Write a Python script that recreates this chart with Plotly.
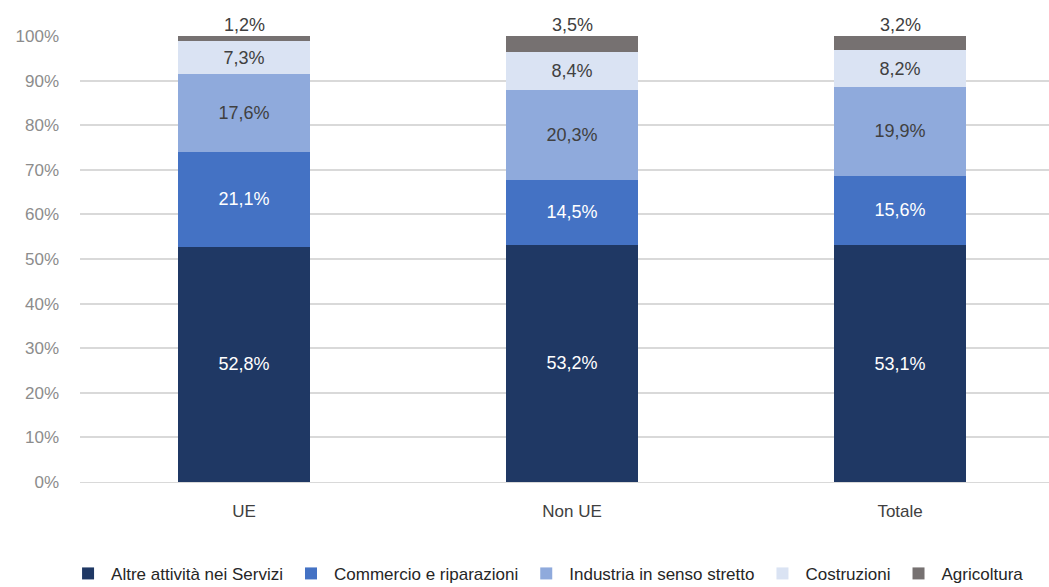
import plotly.graph_objects as go

categories = ["UE", "Non UE", "Totale"]
series_names = ["Altre attività nei Servizi", "Commercio e riparazioni",
                "Industria in senso stretto", "Costruzioni", "Agricoltura"]
altre = [52.8, 53.2, 53.1]
commercio = [21.1, 14.5, 15.6]
industria = [17.6, 20.3, 19.9]
costruzioni = [7.3, 8.4, 8.2]
agricoltura = [1.2, 3.5, 3.2]
tick_vals = [0, 10, 20, 30, 40, 50, 60, 70, 80, 90, 100]
tick_text = [f"{v}%" for v in tick_vals]

values = [altre, commercio, industria, costruzioni, agricoltura]
colors = ["#1F3864", "#4472C4", "#8FAADC", "#DAE3F3", "#767171"]
text_colors = ["white", "white", "#404040", "#404040", "#404040"]

FONT = "Liberation Sans, Arial"

fig = go.Figure()
for name, vals, col, tcol in zip(series_names, values, colors, text_colors):
    last = name == "Agricoltura"
    fig.add_trace(go.Bar(
        x=categories, y=vals, name=name,
        marker=dict(color=col, line=dict(width=0)),
        width=0.4,
        texttemplate="" if last else "%{y:.1f}%",
        textposition="none" if last else "inside",
        insidetextanchor="middle",
        textangle=0,
        textfont=dict(color=tcol, size=18, family=FONT),
    ))

# labels for the top (Agricoltura) segment, placed above each stack
totals = [sum(v[i] for v in values) for i in range(len(categories))]
for cat, tot, val in zip(categories, totals, agricoltura):
    fig.add_annotation(x=cat, y=tot, text=f"{val:.1f}".replace(".", ",") + "%",
                       showarrow=False, yanchor="bottom", yshift=-1,
                       font=dict(size=18, color="#404040", family=FONT))

fig.update_layout(
    barmode="stack",
    width=1049, height=587,
    margin=dict(l=80, r=0, t=36, b=105, autoexpand=False),
    plot_bgcolor="white", paper_bgcolor="white",
    separators=",.",
    font=dict(family=FONT, color="#595959"),
    showlegend=True,
    legend=dict(orientation="h", x=0.482, xanchor="center", y=-0.206, yanchor="middle",
                traceorder="normal",
                font=dict(size=17, color="#262626", family=FONT),
                itemwidth=36),
    xaxis=dict(range=[-0.5, 2.454], showline=True, linecolor="#D9D9D9", linewidth=1,
               tickfont=dict(size=17, color="#404040", family=FONT),
               ticks="", showgrid=False, automargin=False, ticklabelstandoff=14),
    yaxis=dict(range=[0, 100], tickvals=tick_vals, ticktext=tick_text,
               showgrid=True, gridcolor="#D9D9D9", gridwidth=1.5, zeroline=False,
               tickfont=dict(size=17, color="#8C8C8C", family=FONT),
               ticks="", ticklabelstandoff=20, automargin=False),
)

fig.write_html("out.html", config={"displayModeBar": False},
               post_script="document.body.style.margin='0';document.body.style.overflow='hidden';")
